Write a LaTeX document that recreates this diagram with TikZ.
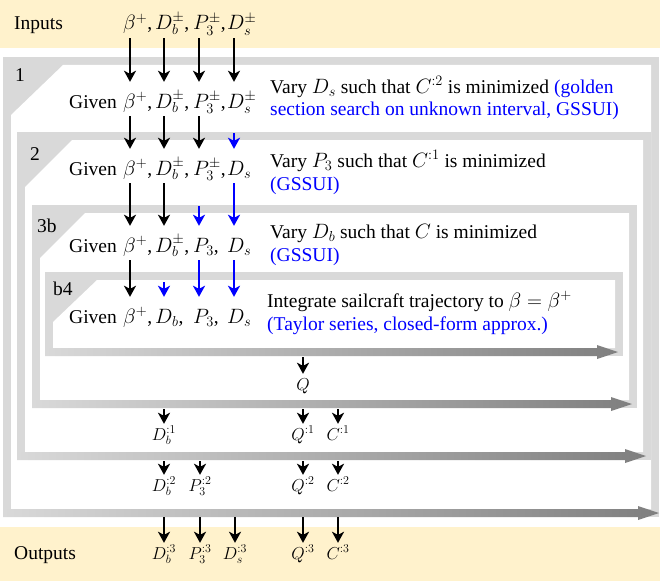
\documentclass[tikz,border=0pt]{standalone}
\usepackage{fontspec}
\setmainfont{Liberation Serif}
\usetikzlibrary{arrows.meta}
\definecolor{bandyellow}{HTML}{FFF2CC}
\definecolor{boxgray}{HTML}{D9D9D9}
\definecolor{arrowgray}{HTML}{7F7F7F}
\definecolor{hlblue}{HTML}{0000FF}
% loop box: x0,y0,x1,y1, chamfer top x, chamfer left y
\newcommand\loopbox[6]{%
  \fill[boxgray] (#1,#2) rectangle (#3,#4);
  \fill[white] (#5,#2+8) -- (#3-8,#2+8) -- (#3-8,#4-8) -- (#1+8,#4-8) -- (#1+8,#6) -- cycle;}
% gradient arrow: x0, y centre, tip x
\newcommand\gradarrow[3]{%
  \shade[left color=boxgray,right color=arrowgray]
    (#1,#2-4) -- (#3-21,#2-4) -- (#3-21,#2-7) -- (#3,#2) -- (#3-21,#2+7) -- (#3-21,#2+4) -- (#1,#2+4) -- cycle;}
\begin{document}
\begin{tikzpicture}[x=1pt,y=-1pt,
  every node/.style={font=\fontsize{19.5}{22}\selectfont, inner sep=0pt},
  item/.style={anchor=base west, text height=16pt, text depth=6pt},
  lab/.style={anchor=base, text height=16pt, text depth=6pt, font=\fontsize{18}{22}\selectfont},
  txt/.style={anchor=base west},
  blue txt/.style={anchor=base west, text=hlblue},
  tip/.style={-{Stealth[length=11pt,width=12pt,inset=3pt]}},
  arr/.style={tip, line width=2pt, shorten <=2pt, shorten >=10pt},
  barr/.style={arr, color=hlblue},
  oarr/.style={tip, line width=2pt}]
\useasboundingbox (0,0) rectangle (660,583);
% bands
\fill[bandyellow] (0,0) rectangle (660,48);
\fill[bandyellow] (0,527) rectangle (660,581);
% loop boxes
\loopbox{3}{57}{659}{517}{63}{115}
\gradarrow{3}{513}{659}
\loopbox{17}{132}{651}{460}{72}{187}
\gradarrow{17}{456}{646}
\loopbox{32}{205}{637}{408}{85}{258}
\gradarrow{32}{404}{632}
\loopbox{45}{272}{623}{356}{97}{322}
\gradarrow{45}{352}{618}
% box labels
\node[txt] (l1) at (15,82) {1};
\node[txt] (l2) at (30,160) {2};
\node[txt] (l3) at (37,232) {3b};
\node[txt] (l4) at (53,295) {b4};
% columns
\coordinate (cB) at (130,0);
\coordinate (cDb) at (164,0);
\coordinate (cP) at (199,0);
\coordinate (cDs) at (234,0);
\coordinate (b2top) at (0,133);
\coordinate (b3top) at (0,206);
\coordinate (b4top) at (0,282);
\coordinate (b4bot) at (0,357);
\coordinate (b3bot) at (0,409);
\coordinate (b2bot) at (0,461);
\coordinate (b1bot) at (0,517);
% inputs
\node[txt] (inputs) at (14,30) {Inputs};
\node[item] (iB) at (123,30) {$\beta^+$,};
\node[item] (iDb) at (155,30) {$D_b^\pm$,};
\node[item] (iP) at (193,30) {$P_3^\pm$,};
\node[item] (iDs) at (227,30) {$D_s^\pm$};
% row 1
\node[txt] (g1) at (69,108) {Given};
\node[item] (g1B) at (123,108) {$\beta^+$,};
\node[item] (g1Db) at (155,108) {$D_b^\pm$,};
\node[item] (g1P) at (193,108) {$P_3^\pm$,};
\node[item] (g1Ds) at (227,108) {$D_s^\pm$};
\node[txt] (r1a) at (270,93) {Vary $D_s$ such that $C^{:2}$ is minimized \textcolor{hlblue}{(golden}};
\node[blue txt] (r1b) at (270,115) {section search on unknown interval, GSSUI)};
% row 2
\node[txt] (g2) at (69,175) {Given};
\node[item] (g2B) at (123,175) {$\beta^+$,};
\node[item] (g2Db) at (155,175) {$D_b^\pm$,};
\node[item] (g2P) at (193,175) {$P_3^\pm$,};
\node[item] (g2Ds) at (227,175) {$D_s$};
\node[txt] (r2a) at (270,167) {Vary $P_3$ such that $C^{:1}$ is minimized};
\node[blue txt] (r2b) at (270,190) {(GSSUI)};
% row 3
\node[txt] (g3) at (69,252) {Given};
\node[item] (g3B) at (123,252) {$\beta^+$,};
\node[item] (g3Db) at (155,252) {$D_b^\pm$,};
\node[item] (g3P) at (193,252) {$P_3$,};
\node[item] (g3Ds) at (227,252) {$D_s$};
\node[txt] (r3a) at (270,238) {Vary $D_b$ such that $C$ is minimized};
\node[blue txt] (r3b) at (270,261) {(GSSUI)};
% row 4
\node[txt] (g4) at (69,323) {Given};
\node[item] (g4B) at (123,323) {$\beta^+$,};
\node[item] (g4Db) at (155,323) {$D_b$,};
\node[item] (g4P) at (193,323) {$P_3$,};
\node[item] (g4Ds) at (227,323) {$D_s$};
\node[txt] (r4a) at (267,307) {Integrate sailcraft trajectory to $\beta=\beta^+$};
\node[blue txt] (r4b) at (267,330) {(Taylor series, closed-form approx.)};
% arrows inputs -> row1
\draw[arr] (iB.south -| cB) -- (g1B.north -| cB);
\draw[arr] (iDb.south -| cDb) -- (g1Db.north -| cDb);
\draw[arr] (iP.south -| cP) -- (g1P.north -| cP);
\draw[arr] (iDs.south -| cDs) -- (g1Ds.north -| cDs);
% row1 -> row2
\draw[arr] (g1B.south -| cB) -- (g2B.north -| cB);
\draw[arr] (g1Db.south -| cDb) -- (g2Db.north -| cDb);
\draw[arr] (g1P.south -| cP) -- (g2P.north -| cP);
\draw[barr, shorten <=0pt] (cDs |- b2top) -- (g2Ds.north -| cDs);
% row2 -> row3
\draw[arr] (g2B.south -| cB) -- (g3B.north -| cB);
\draw[arr] (g2Db.south -| cDb) -- (g3Db.north -| cDb);
\draw[barr, shorten <=0pt] (cP |- b3top) -- (g3P.north -| cP);
\draw[barr] (g2Ds.south -| cDs) -- (g3Ds.north -| cDs);
% row3 -> row4
\draw[arr] (g3B.south -| cB) -- (g4B.north -| cB);
\draw[barr, shorten <=0pt] (cDb |- b4top) -- (g4Db.north -| cDb);
\draw[barr] (g3P.south -| cP) -- (g4P.north -| cP);
\draw[barr] (g3Ds.south -| cDs) -- (g4Ds.north -| cDs);
% results
\node[lab] (Q) at (303,390) {$Q$};
\draw[oarr] (Q |- b4bot) -- (Q.north);
\node[lab] (Db1) at (164,440) {$D_b^{:1}$};
\node[lab] (Q1) at (303,440) {$Q^{:1}$};
\node[lab] (C1) at (338,440) {$C^{:1}$};
\draw[oarr] (Db1 |- b3bot) -- (Db1.north);
\draw[oarr] (Q1 |- b3bot) -- (Q1.north);
\draw[oarr] (C1 |- b3bot) -- (C1.north);
\node[lab] (Db2) at (164,491) {$D_b^{:2}$};
\node[lab] (P2) at (200,491) {$P_3^{:2}$};
\node[lab] (Q2) at (303,491) {$Q^{:2}$};
\node[lab] (C2) at (338,491) {$C^{:2}$};
\draw[oarr] (Db2 |- b2bot) -- (Db2.north);
\draw[oarr] (P2 |- b2bot) -- (P2.north);
\draw[oarr] (Q2 |- b2bot) -- (Q2.north);
\draw[oarr] (C2 |- b2bot) -- (C2.north);
\node[txt] (outputs) at (14,559) {Outputs};
\node[lab] (Db3) at (164,559) {$D_b^{:3}$};
\node[lab] (P3) at (200,559) {$P_3^{:3}$};
\node[lab] (Ds3) at (235,559) {$D_s^{:3}$};
\node[lab] (Q3) at (303,559) {$Q^{:3}$};
\node[lab] (C3) at (338,559) {$C^{:3}$};
\draw[oarr] (Db3 |- b1bot) -- (Db3.north);
\draw[oarr] (P3 |- b1bot) -- (P3.north);
\draw[oarr] (Ds3 |- b1bot) -- (Ds3.north);
\draw[oarr] (Q3 |- b1bot) -- (Q3.north);
\draw[oarr] (C3 |- b1bot) -- (C3.north);
\end{tikzpicture}
\end{document}
